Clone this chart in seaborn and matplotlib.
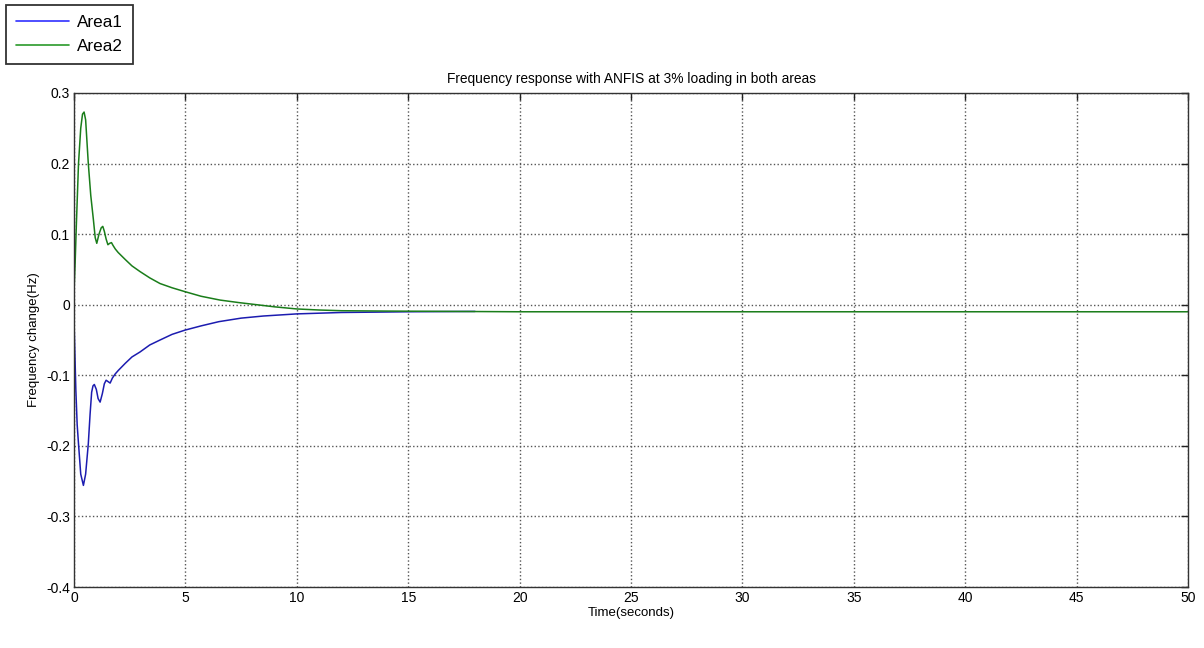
import numpy as np
import pandas as pd
import seaborn as sns
import matplotlib.pyplot as plt
from matplotlib.lines import Line2D

# Area2 (green) curve
t_area2 = [0.0, 0.05, 0.1, 0.2, 0.3, 0.38, 0.45, 0.52, 0.64, 0.75, 0.87, 0.95, 1.02,
           1.12, 1.22, 1.29, 1.36, 1.44, 1.52, 1.6, 1.68, 1.75, 1.85, 1.98, 2.3, 2.6,
           2.96, 3.4, 3.86, 4.4, 4.98, 5.7, 6.55, 7.4, 8.2, 9.0, 10.0, 11.0, 12.0, 14.0,
           17.0, 20.0, 50.0]
y_area2 = [0.02, 0.06, 0.11, 0.2, 0.25, 0.27, 0.273, 0.262, 0.2, 0.155, 0.12, 0.095, 0.087,
           0.1, 0.109, 0.111, 0.104, 0.093, 0.085, 0.087, 0.088, 0.084, 0.079, 0.074, 0.064, 0.055,
           0.047, 0.038, 0.030, 0.024, 0.0185, 0.012, 0.0066, 0.003, 0.0, -0.003, -0.006, -0.0075,
           -0.0085, -0.009, -0.0095, -0.01, -0.01]

# Area1 (blue) curve
t_area1 = [0.0, 0.03, 0.08, 0.14, 0.2, 0.3, 0.42, 0.52, 0.64, 0.72, 0.79, 0.85, 0.91, 1.0,
           1.08, 1.17, 1.27, 1.36, 1.44, 1.53, 1.62, 1.72, 1.85, 1.99, 2.3, 2.6, 2.96, 3.4,
           3.86, 4.4, 4.98, 5.7, 6.5, 7.5, 8.5, 10.0, 12.0, 15.0, 18.0]
y_area1 = [-0.025, -0.06, -0.12, -0.17, -0.197, -0.24, -0.256, -0.24, -0.197, -0.155, -0.124, -0.115, -0.113, -0.12,
           -0.133, -0.138, -0.126, -0.112, -0.107, -0.109, -0.111, -0.104, -0.098, -0.093, -0.083, -0.074, -0.067, -0.057,
           -0.050, -0.042, -0.036, -0.03, -0.024, -0.019, -0.016, -0.013, -0.011, -0.010, -0.0095]

x_ticks = [0, 5, 10, 15, 20, 25, 30, 35, 40, 45, 50]
y_ticks = [-0.4, -0.3, -0.2, -0.1, 0, 0.1, 0.2, 0.3]
y_labels = ['-0.4', '-0.3', '-0.2', '-0.1', '0', '0.1', '0.2', '0.3']

df = pd.concat([
    pd.DataFrame({'t': t_area1, 'y': y_area1, 'series': 'Area1'}),
    pd.DataFrame({'t': t_area2, 'y': y_area2, 'series': 'Area2'}),
])

sns.set_theme(style='white')
plt.rcParams['font.family'] = ['Liberation Sans', 'DejaVu Sans']
plt.rcParams['axes.unicode_minus'] = False

fig = plt.figure(figsize=(12.04, 6.48), dpi=100)
ax = fig.add_axes([0.0615, 0.0941, 0.9252, 0.7624])

sns.lineplot(data=df, x='t', y='y', hue='series', palette={'Area1': '#1c1cb0', 'Area2': '#1a7d1a'},
             sort=False, estimator=None, linewidth=1.1, ax=ax, legend=False)

ax.set_xlim(0, 50)
ax.set_ylim(-0.4, 0.3)
ax.set_xticks(x_ticks)
ax.set_xticklabels([str(v) for v in x_ticks])
ax.set_yticks(y_ticks)
ax.set_yticklabels(y_labels)
ax.grid(True, linestyle=':', color='#555555', linewidth=1.0)
ax.tick_params(direction='in', length=5, width=1, colors='#222222', labelsize=10,
               top=True, right=True, labelcolor='black', pad=3)
for s in ax.spines.values():
    s.set_color('#333333')
    s.set_linewidth(1.0)

ax.set_title('Frequency response with ANFIS at 3% loading in both areas', fontsize=9.9,
             pad=7, color='black')
ax.set_xlabel('Time(seconds)', fontsize=9.5, labelpad=1, color='black')
ax.set_ylabel('Frequency change(Hz)', fontsize=9.5, labelpad=4, color='black')

# legend sits outside the axes, top left of the figure
handles = [Line2D([], [], color='#3030ff', lw=1.2), Line2D([], [], color='#2a9a2a', lw=1.2)]
leg = fig.legend(handles, ['Area1', 'Area2'], loc='upper left', bbox_to_anchor=(0.005, 0.992),
                 fontsize=12.3, frameon=True, fancybox=False, handlelength=3.1,
                 borderpad=0.6, labelspacing=0.5, handletextpad=0.45, borderaxespad=0)
leg.get_frame().set_edgecolor('black')
leg.get_frame().set_linewidth(1.3)
for txt in leg.get_texts():
    txt.set_color('black')

fig.savefig('out.png', dpi=100, facecolor='white')
